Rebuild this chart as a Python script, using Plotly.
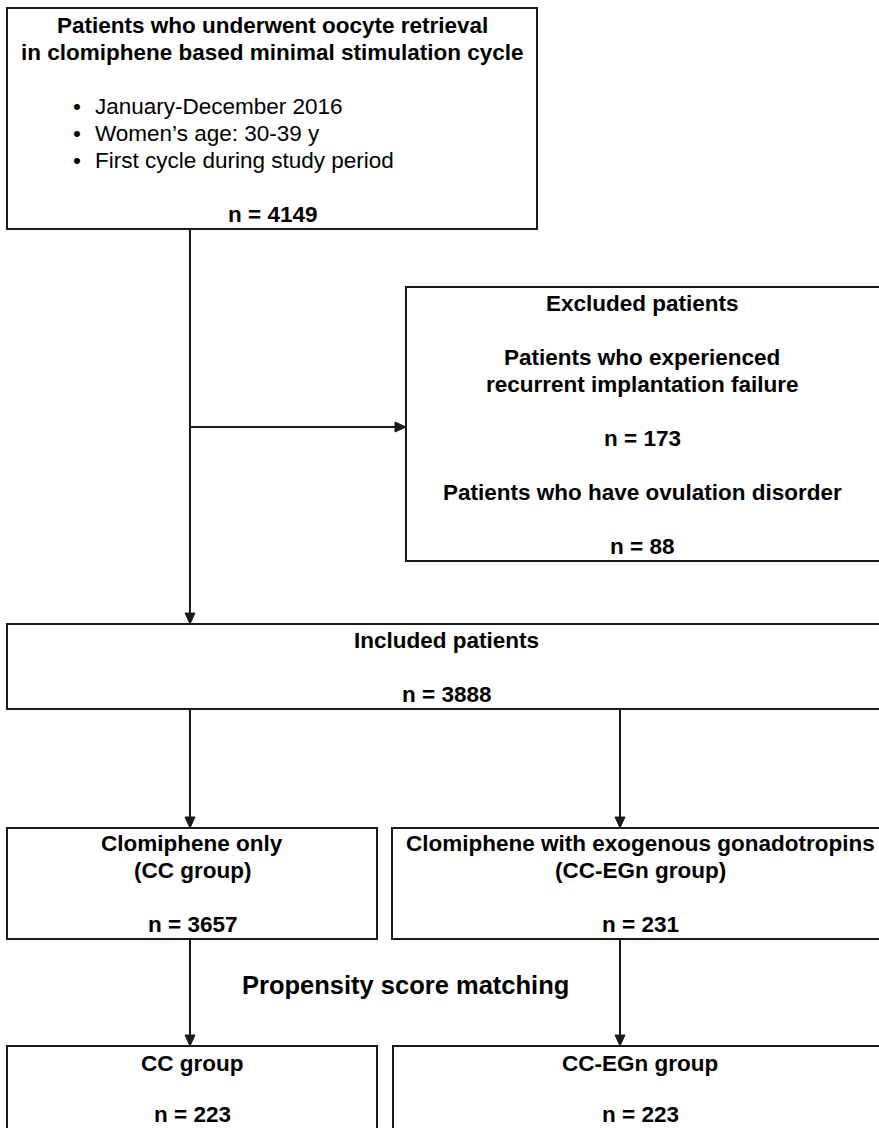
import plotly.graph_objects as go

screened_title = ["Patients who underwent oocyte retrieval",
                  "in clomiphene based minimal stimulation cycle"]
screened_criteria = ["January-December 2016",
                     "Women\u2019s age: 30-39 y",
                     "First cycle during study period"]
screened_n = 4149

excluded_header = "Excluded patients"
excluded_reasons = [["Patients who experienced", "recurrent implantation failure"],
                    ["Patients who have ovulation disorder"]]
excluded_n = [173, 88]

included_label = "Included patients"
included_n = 3888

group_labels = [["Clomiphene only", "(CC group)"],
                ["Clomiphene with exogenous gonadotropins", "(CC-EGn group)"]]
group_n = [3657, 231]

matching_label = "Propensity score matching"
matched_labels = ["CC group", "CC-EGn group"]
matched_n = [223, 223]

# ---------------- layout constants (pixel space, y downwards) ----------------
W, H = 879, 1128
LINE = 27          # line pitch
FS = 22.5          # font size
FONT = "Liberation Sans, Arial, sans-serif"
INK = "#1a1a1a"

box_top = (7, 8, 537, 229)
box_excl = (406, 287, 892, 561)
box_incl = (7, 624, 892, 709)
box_groups = [(7, 828, 377, 939), (392, 828, 892, 939)]
box_matched = [(7, 1046, 377, 1145), (393, 1046, 892, 1145)]
col_x = [190, 620]
text_cx_groups = [192, 640]
text_cx_incl = 446
text_cx_excl = 642
text_cx_top = 272
side_arrow_y = 427

shapes = []
annotations = []


def rect(b):
    shapes.append(dict(type="rect", xref="x", yref="y", x0=b[0], y0=b[1], x1=b[2], y1=b[3],
                       line=dict(color=INK, width=2), fillcolor="rgba(0,0,0,0)", layer="above"))


def text(x, y, s, bold=True, size=FS, xanchor="center"):
    annotations.append(dict(x=x, y=y, xref="x", yref="y", text=("<b>%s</b>" % s) if bold else s,
                            showarrow=False, xanchor=xanchor, yanchor="middle",
                            font=dict(family=FONT, size=size, color="#000000")))


def connector(x0, y0, x1, y1, head=11, half=5):
    # line up to the base of the head, then a filled triangular head
    if x0 == x1:
        shapes.append(dict(type="line", xref="x", yref="y", x0=x0, y0=y0, x1=x1, y1=y1 - head,
                           line=dict(color=INK, width=2)))
        path = "M %g,%g L %g,%g L %g,%g Z" % (x1 - half, y1 - head, x1 + half, y1 - head, x1, y1)
    else:
        shapes.append(dict(type="line", xref="x", yref="y", x0=x0, y0=y0, x1=x1 - head, y1=y1,
                           line=dict(color=INK, width=2)))
        path = "M %g,%g L %g,%g L %g,%g Z" % (x1 - head, y1 - half, x1 - head, y1 + half, x1, y1)
    shapes.append(dict(type="path", xref="x", yref="y", path=path, fillcolor=INK,
                       line=dict(color=INK, width=1)))


# ---- top box ----
rect(box_top)
y = box_top[1] + 17
for s in screened_title:
    text(text_cx_top, y, s)
    y += LINE
y += LINE
for s in screened_criteria:
    text(77, y, "\u2022", bold=False, xanchor="center")
    text(93, y, s, bold=False, xanchor="left")
    y += LINE
y += LINE
text(text_cx_top, y, "n = %d" % screened_n)

# ---- excluded box ----
rect(box_excl)
y = box_excl[1] + 16
text(text_cx_excl, y, excluded_header)
for reason, n in zip(excluded_reasons, excluded_n):
    y += 2 * LINE
    for k, s in enumerate(reason):
        if k:
            y += LINE
        text(text_cx_excl, y, s)
    y += 2 * LINE
    text(text_cx_excl, y, "n = %d" % n)

# ---- included box ----
rect(box_incl)
text(text_cx_incl, box_incl[1] + 16, included_label)
text(text_cx_incl, box_incl[1] + 16 + 2 * LINE, "n = %d" % included_n)

# ---- group boxes ----
for b, cx, lab, n in zip(box_groups, text_cx_groups, group_labels, group_n):
    rect(b)
    y = b[1] + 15
    for s in lab:
        text(cx, y, s)
        y += LINE
    y += LINE
    text(cx, y, "n = %d" % n)

# ---- matched boxes ----
for b, cx, lab, n in zip(box_matched, text_cx_groups, matched_labels, matched_n):
    rect(b)
    text(cx, b[1] + 17, lab)
    text(cx, b[1] + 68, "n = %d" % n)

text(405, 985, matching_label, size=25.5)

# ---- connectors ----
connector(col_x[0], box_top[3], col_x[0], box_incl[1])
connector(col_x[0], side_arrow_y, box_excl[0], side_arrow_y)
for i in range(2):
    connector(col_x[i], box_incl[3], col_x[i], box_groups[i][1])
    connector(col_x[i], box_groups[i][3], col_x[i], box_matched[i][1])

fig = go.Figure()
fig.update_layout(
    width=W, height=H,
    margin=dict(l=0, r=0, t=0, b=0),
    paper_bgcolor="white", plot_bgcolor="white",
    xaxis=dict(range=[0, W], visible=False, fixedrange=True),
    yaxis=dict(range=[H, 0], visible=False, fixedrange=True),
    shapes=shapes, annotations=annotations, showlegend=False,
)
fig.write_html("out.html", config={"displayModeBar": False},
               post_script="document.body.style.margin='0';document.body.style.overflow='hidden';")
